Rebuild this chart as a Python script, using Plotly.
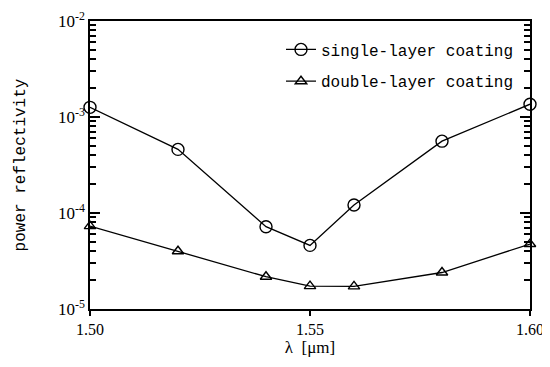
import plotly.graph_objects as go

wavelength = [1.50, 1.52, 1.54, 1.55, 1.56, 1.58, 1.60]
single_layer = [1.26e-3, 4.6e-4, 7.2e-5, 4.6e-5, 1.21e-4, 5.6e-4, 1.36e-3]
double_layer = [7.3e-5, 4.0e-5, 2.17e-5, 1.73e-5, 1.72e-5, 2.4e-5, 4.75e-5]
x_ticks = [1.50, 1.55, 1.60]
x_ticklabels = ["1.50", "1.55", "1.60"]
y_ticks = [1e-5, 1e-4, 1e-3, 1e-2]
y_ticklabels = ["10<sup>-5</sup>", "10<sup>-4</sup>", "10<sup>-3</sup>", "10<sup>-2</sup>"]
minor_digits = [2, 3, 4, 5, 6, 7, 8, 9]
y_minor = [d * t for t in y_ticks[:-1] for d in minor_digits]

# page body has an 8px margin, so the figure is sized 8px smaller
W, H = 542, 359

fig = go.Figure()
fig.add_trace(go.Scatter(
    x=wavelength, y=single_layer, mode="lines+markers", name="single-layer coating",
    legendgroup="a",
    line=dict(color="black", width=1.3),
    marker=dict(symbol="circle-open", size=12, color="black", line=dict(width=1.4)),
    cliponaxis=False,
))
fig.add_trace(go.Scatter(
    x=wavelength, y=double_layer, mode="lines+markers", name="double-layer coating",
    legendgroup="b", yaxis="y2",
    line=dict(color="black", width=1.3),
    marker=dict(symbol="triangle-up-open", size=10, color="black", line=dict(width=1.4)),
    cliponaxis=False,
))

axis_line = dict(showgrid=False, zeroline=False, showline=True, linecolor="black", linewidth=1.5)

fig.update_layout(
    template="none",
    width=W, height=H,
    margin=dict(l=82, r=20, t=13, b=58),
    paper_bgcolor="white", plot_bgcolor="white",
    font=dict(family="Liberation Serif", color="black", size=15),
    legend=dict(
        x=0.975, y=0.96, xanchor="right", yanchor="top",
        font=dict(family="Liberation Mono", size=16),
        bgcolor="rgba(0,0,0,0)", tracegroupgap=8,
    ),
    xaxis=dict(
        range=[1.50, 1.60], tickvals=x_ticks, ticktext=x_ticklabels, automargin=False,
        ticklabeloverflow="allow",
        mirror=True, ticks="outside", ticklen=5, tickwidth=2, tickcolor="black",
        tickfont=dict(family="Liberation Serif", size=16),
        title=dict(text="λ  [μm]", font=dict(family="Liberation Serif", size=17), standoff=2),
        **axis_line,
    ),
    yaxis=dict(
        type="log", range=[-5, -2], tickvals=y_ticks, ticktext=y_ticklabels, automargin=False,
        ticklabeloverflow="allow",
        mirror="allticks", ticks="inside", ticklen=10, tickwidth=2, tickcolor="black",
        tickfont=dict(family="Liberation Serif", size=17),
        title=dict(text="power reflectivity", font=dict(family="Liberation Mono", size=16), standoff=28),
        **axis_line,
    ),
    yaxis2=dict(
        type="log", range=[-5, -2], overlaying="y", tickvals=y_minor, showticklabels=False,
        automargin=False, mirror="allticks", ticks="inside", ticklen=6, tickwidth=1.8,
        tickcolor="black",
        **axis_line,
    ),
)

fig.write_html("out.html")
